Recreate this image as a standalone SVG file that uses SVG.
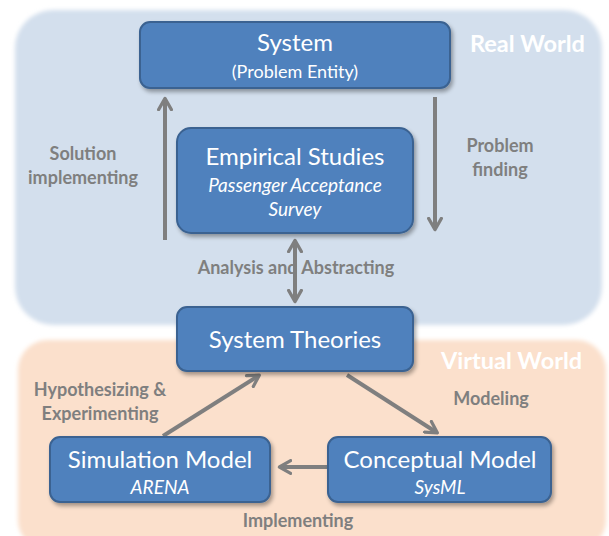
<svg xmlns="http://www.w3.org/2000/svg" width="609" height="536" viewBox="0 0 609 536">
<defs>
<filter id="sh" x="-10%" y="-10%" width="130%" height="140%">
<feGaussianBlur in="SourceAlpha" stdDeviation="2"/>
<feOffset dx="2" dy="3" result="b"/>
<feComponentTransfer><feFuncA type="linear" slope="0.35"/></feComponentTransfer>
<feMerge><feMergeNode/><feMergeNode in="SourceGraphic"/></feMerge>
</filter>
<filter id="soft" x="-5%" y="-5%" width="110%" height="110%">
<feGaussianBlur stdDeviation="2"/>
</filter>
<marker id="ah" viewBox="0 0 10 10" refX="7" refY="5" markerWidth="4" markerHeight="4" orient="auto-start-reverse" markerUnits="strokeWidth">
<path d="M1,1 L8,5 L1,9" fill="none" stroke="#7f7f7f" stroke-width="2" stroke-linecap="round" stroke-linejoin="round"/>
</marker>
</defs>
<style>
.box{fill:#4f81bd;stroke:#3a6291;stroke-width:2;filter:url(#sh)}
.t{font-family:Lato,"Open Sans","Liberation Sans",sans-serif;fill:#fff;text-anchor:middle}
.big{font-size:24px}
.sub{font-size:18px}
.it{font-style:italic;font-size:19px}
.lbl{font-family:Lato,"Open Sans","Liberation Sans",sans-serif;font-weight:bold;font-size:18px;fill:#7f7f7f;text-anchor:middle}
.world{font-family:Lato,"Open Sans","Liberation Sans",sans-serif;font-weight:bold;font-size:23.5px;fill:#fff}
.c{stroke:#7f7f7f;stroke-width:4;fill:none;marker-end:url(#ah)}
</style>
<rect x="0" y="0" width="609" height="536" fill="#fff"/>
<g id="panels">
<rect x="15" y="10" width="587" height="315" rx="38" fill="#d3dfed" filter="url(#soft)"/>
<rect x="18" y="340" width="588" height="210" rx="30" fill="#fbe0cc" filter="url(#soft)"/>
<text class="world" x="470" y="52">Real World</text>
<text class="world" x="441" y="369">Virtual World</text>
</g>
<g id="labels">
<text class="lbl" x="83" y="160">Solution</text>
<text class="lbl" x="83" y="184">implementing</text>
<text class="lbl" x="500" y="152">Problem</text>
<text class="lbl" x="500" y="176">finding</text>
<text class="lbl" x="296" y="274">Analysis and Abstracting</text>
<text class="lbl" x="100" y="396">Hypothesizing &amp;</text>
<text class="lbl" x="100" y="420">Experimenting</text>
<text class="lbl" x="491" y="405">Modeling</text>
<text class="lbl" x="298" y="527">Implementing</text>
</g>
<g id="connectors">
<line class="c" x1="165" y1="240" x2="165" y2="100"/>
<line class="c" x1="435" y1="97" x2="435" y2="228"/>
<line class="c" x1="295" y1="242" x2="295" y2="300" style="marker-start:url(#ah)"/>
<line class="c" x1="163" y1="436" x2="258" y2="376"/>
<line class="c" x1="347" y1="375" x2="436" y2="432"/>
<line class="c" x1="327" y1="467" x2="281" y2="467"/>
</g>
<g id="system">
<rect class="box" x="140" y="22" width="310" height="66" rx="10"/>
<text class="t big" x="295" y="51">System</text>
<text class="t sub" x="295" y="78">(Problem Entity)</text>
</g>
<g id="empirical">
<rect class="box" x="177" y="128" width="236" height="105" rx="14"/>
<text class="t big" x="295" y="165">Empirical Studies</text>
<text class="t it" x="295" y="192">Passenger Acceptance</text>
<text class="t it" x="295" y="216">Survey</text>
</g>
<g id="theories">
<rect class="box" x="177" y="307" width="236" height="64" rx="10"/>
<text class="t big" x="295" y="348">System Theories</text>
</g>
<g id="simulation">
<rect class="box" x="50" y="437" width="220" height="65" rx="10"/>
<text class="t big" x="160" y="468">Simulation Model</text>
<text class="t it" x="160" y="494">ARENA</text>
</g>
<g id="conceptual">
<rect class="box" x="328" y="437" width="223" height="65" rx="10"/>
<text class="t big" x="440" y="468">Conceptual Model</text>
<text class="t it" x="440" y="494">SysML</text>
</g>
</svg>
